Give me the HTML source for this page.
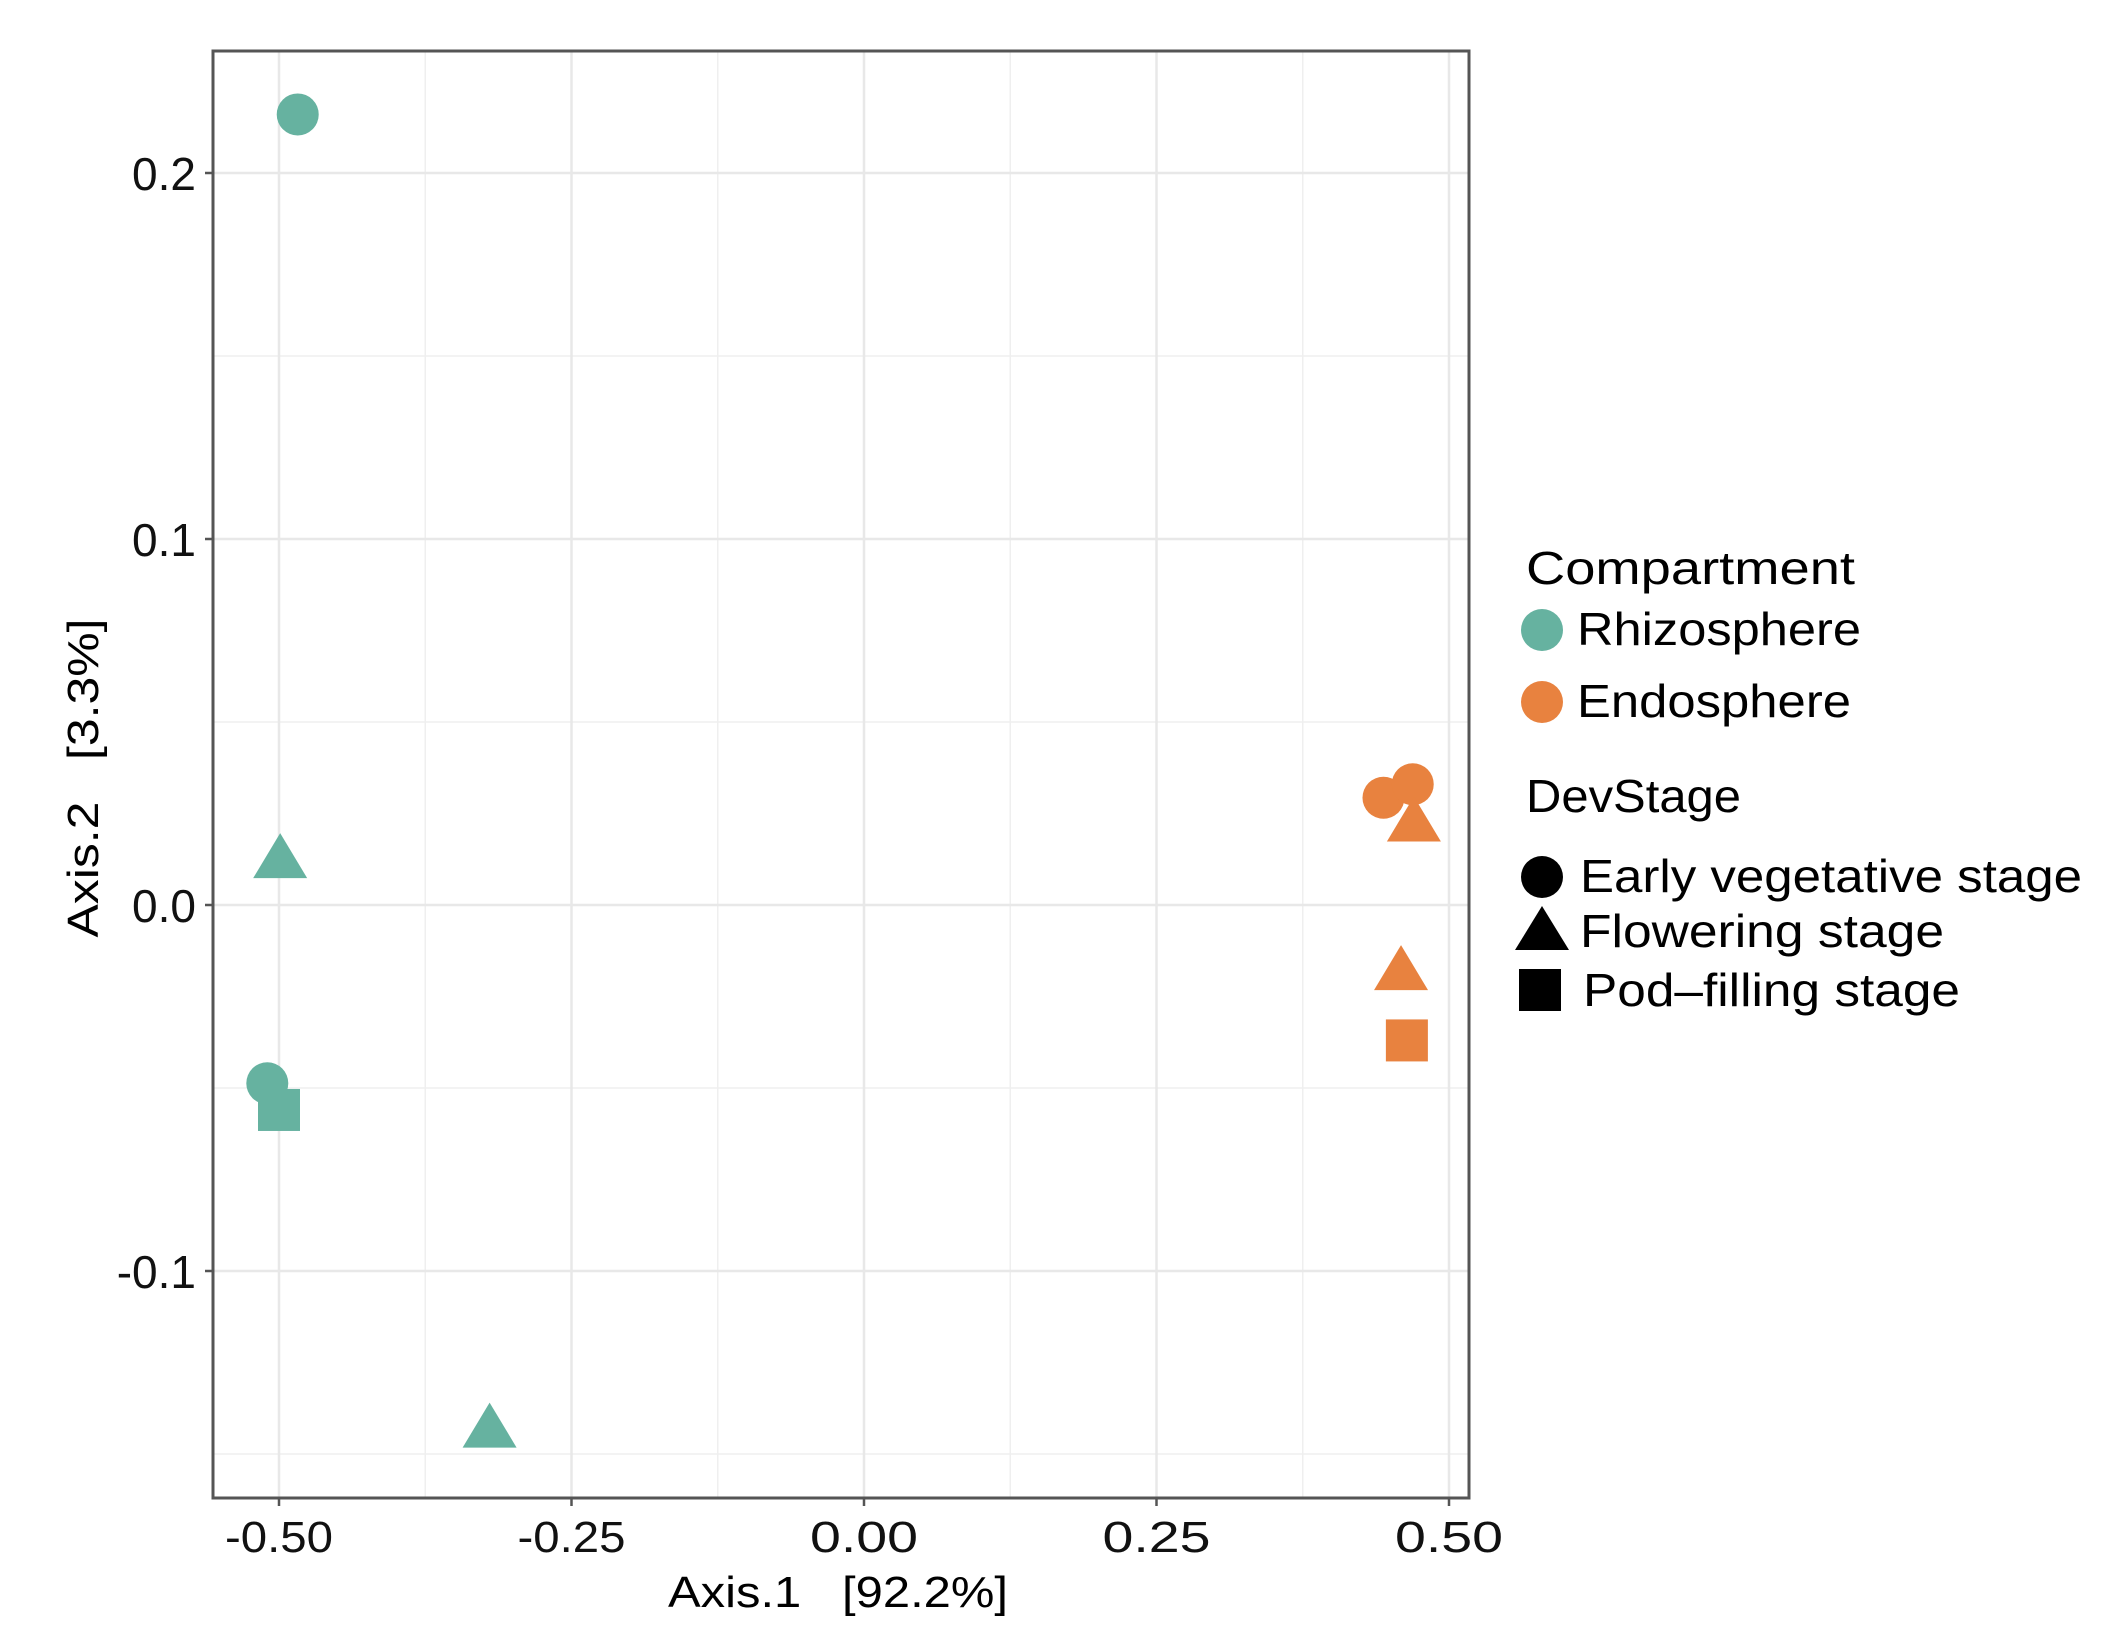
<!DOCTYPE html>
<html><head><meta charset="utf-8"><style>html,body{margin:0;padding:0;background:#fff}svg{display:block}</style></head>
<body>
<svg id="chart" width="2118" height="1646" viewBox="0 0 2118 1646" xmlns="http://www.w3.org/2000/svg" font-family="'Liberation Sans', Arial, sans-serif">
<rect width="2118" height="1646" fill="#fff"/>
<g id="grid"></g>
<g id="points"></g>
<rect x="213" y="51" width="1256" height="1447" fill="none" stroke="#555" stroke-width="3"/>
<g id="axes"></g>
<text x="838" y="1607" font-size="44" text-anchor="middle" textLength="340" lengthAdjust="spacingAndGlyphs" xml:space="preserve">Axis.1   [92.2%]</text>
<text x="0" y="0" font-size="44" text-anchor="middle" transform="translate(98,778) rotate(-90)" textLength="319" lengthAdjust="spacingAndGlyphs" xml:space="preserve">Axis.2   [3.3%]</text>
<g font-family="'Liberation Sans', Calibri, sans-serif" font-size="46" transform="translate(-9,0)">
<text x="1535" y="584" textLength="329" lengthAdjust="spacingAndGlyphs">Compartment</text>
<circle cx="1551" cy="630" r="21" fill="#66b2a0"/>
<text x="1586" y="645" textLength="284" lengthAdjust="spacingAndGlyphs">Rhizosphere</text>
<circle cx="1551" cy="702" r="21" fill="#e8823f"/>
<text x="1586" y="717" textLength="274" lengthAdjust="spacingAndGlyphs">Endosphere</text>
<text x="1535" y="812" textLength="215" lengthAdjust="spacingAndGlyphs">DevStage</text>
<circle cx="1551" cy="877" r="21" fill="#000"/>
<text x="1589" y="892" textLength="502" lengthAdjust="spacingAndGlyphs">Early vegetative stage</text>
<polygon points="1551,906 1578,950 1524,950" fill="#000"/>
<text x="1589" y="947" textLength="364" lengthAdjust="spacingAndGlyphs">Flowering stage</text>
<rect x="1528" y="969" width="42" height="42" fill="#000"/>
<text x="1592" y="1006" textLength="377" lengthAdjust="spacingAndGlyphs">Pod–filling stage</text>
</g>
</svg>
<script>
const xTicks = [-0.50, -0.25, 0.00, 0.25, 0.50];
const xTickLabels = ["-0.50", "-0.25", "0.00", "0.25", "0.50"];
const xMinor = [-0.375, -0.125, 0.125, 0.375];
const yTicks = [-0.1, 0.0, 0.1, 0.2];
const yTickLabels = ["-0.1", "0.0", "0.1", "0.2"];
const yMinor = [-0.15, -0.05, 0.05, 0.15];
const compartments = ["Rhizosphere","Rhizosphere","Rhizosphere","Rhizosphere","Rhizosphere","Endosphere","Endosphere","Endosphere","Endosphere","Endosphere"];
const stages = ["circle","triangle","circle","square","triangle","circle","circle","triangle","triangle","square"];
const axis1 = [-0.484, -0.499, -0.510, -0.500, -0.320, 0.444, 0.469, 0.470, 0.459, 0.464];
const axis2 = [0.216, 0.012, -0.0487, -0.056, -0.1436, 0.0293, 0.033, 0.022, -0.0186, -0.037];

const NS = "http://www.w3.org/2000/svg";
const L = 213, R = 1469, T = 51, B = 1498;
function sx(v){ return 864 + v * 1170; }
function sy(v){ return 905 - v * 3660; }
const colors = {Rhizosphere: "#66b2a0", Endosphere: "#e8823f"};
function mk(tag, attrs, parent){ const e = document.createElementNS(NS, tag); for (const k in attrs) e.setAttribute(k, attrs[k]); parent.appendChild(e); return e; }

const grid = document.getElementById("grid");
xMinor.forEach(v => { const e = mk("line", {x1: sx(v), x2: sx(v), y1: T, y2: B, stroke: "#efefef", "stroke-width": 1.5}, grid);
  
   });
yMinor.forEach(v => { const e = mk("line", {x1: L, x2: R, y1: sy(v), y2: sy(v), stroke: "#efefef", "stroke-width": 1.5}, grid);
  
   });
xTicks.forEach(v => { const e = mk("line", {x1: sx(v), x2: sx(v), y1: T, y2: B, stroke: "#e8e8e8", "stroke-width": 2.5}, grid);
  
   });
yTicks.forEach(v => { const e = mk("line", {x1: L, x2: R, y1: sy(v), y2: sy(v), stroke: "#e8e8e8", "stroke-width": 2.5}, grid);
  
   });

const axes = document.getElementById("axes");
xTicks.forEach((v, i) => {
  const t = mk("line", {x1: sx(v), x2: sx(v), y1: B, y2: B + 8, stroke: "#555", "stroke-width": 2.5}, axes);
  
  
  const l = mk("text", {x: sx(v), y: 1552, "font-size": 44, "text-anchor": "middle", fill: "#111", textLength: 108, lengthAdjust: "spacingAndGlyphs"}, axes);
  l.textContent = xTickLabels[i];
  
  
});
yTicks.forEach((v, i) => {
  const t = mk("line", {x1: L - 8, x2: L, y1: sy(v), y2: sy(v), stroke: "#555", "stroke-width": 2.5}, axes);
  
  
  const l = mk("text", {x: 196, y: sy(v) + 17, "font-size": 46, "text-anchor": "end", fill: "#111"}, axes);
  l.textContent = yTickLabels[i];
  
  
});

const pts = document.getElementById("points");
axis1.forEach((v, i) => {
  const cx = sx(v), cy = sy(axis2[i]), c = colors[compartments[i]];
  let e;
  if (stages[i] === "circle") e = mk("circle", {cx: cx, cy: cy, r: 21, fill: c}, pts);
  else if (stages[i] === "square") e = mk("rect", {x: cx - 21, y: cy - 21, width: 42, height: 42, fill: c}, pts);
  else e = mk("polygon", {points: `${cx},${cy - 28} ${cx + 27},${cy + 17} ${cx - 27},${cy + 17}`, fill: c}, pts);
  
  
});
</script>
</body></html>
